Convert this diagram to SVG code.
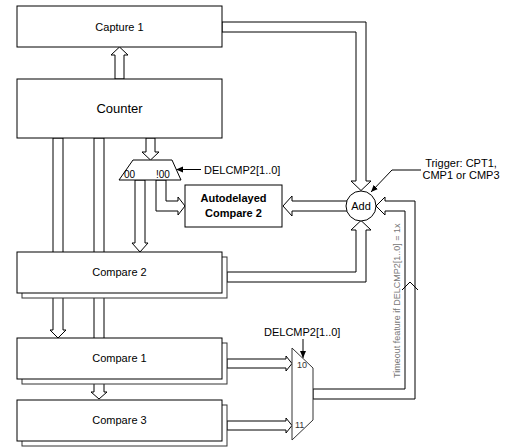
<svg xmlns="http://www.w3.org/2000/svg" width="515" height="448" viewBox="0 0 515 448">
<style>
.box{fill:#fff;stroke:#000;stroke-width:1}
.shadow{fill:#fff;stroke:#333;stroke-width:1}
.ha{fill:#fff;stroke:#000;stroke-width:1;stroke-linejoin:miter}
.ln{fill:none;stroke:#000;stroke-width:1}
text{font-family:"Liberation Sans",Arial,sans-serif;fill:#000}
.t11{font-size:11px}
.t13{font-size:13px}
.b11{font-size:11px;font-weight:bold}
.t10{font-size:10px}
.t9{font-size:9px;fill:#333}
.vt{font-size:9px;fill:#777}
</style>
<defs>
<marker id="ah" markerWidth="8" markerHeight="8" refX="7" refY="4" orient="auto" markerUnits="userSpaceOnUse">
<path d="M0,1 L7,4 L0,7 Z" fill="#000"/>
</marker>
</defs>
<g id="connectors">
<polygon class="ha" points="115,79 115,55 111,55 119.5,47 128,55 124,55 124,79"/>
<polygon class="ha" points="222,22 366,22 366,181 371,181 361,190.5 351,181 356,181 356,32 222,32"/>
<polygon class="ha" points="227,272 356,272 356,230 351,230 361,220.5 371,230 366,230 366,282 227,282"/>
<polygon class="ha" points="352,201 292,201 292,196 283,206 292,216 292,211 352,211"/>
<polygon class="ha" points="313,389 405,389 405,211 385,211 385,215 376,206 385,197 385,201 415,201 415,399 313,399"/>
<polyline class="ln" points="402,290 410,282 418,290"/>
<polygon class="ha" points="146,138 146,152 142,152 150.5,160 159,152 155,152 155,138"/>
<polygon class="ha" points="135,180 135,243 132,243 140,252 148,243 145,243 145,180"/>
<polygon class="ha" points="166,180 166,201 178,201 178,197 185,206 178,215 178,211 156,211 156,180"/>
<polygon class="ha" points="53,138 53,330 50,330 58,338 66,330 63,330 63,138"/>
<polygon class="ha" points="94,138 94,392 91,392 99,399 107,392 104,392 104,138"/>
<polygon class="ha" points="227,359 286,359 286,356 292,363.5 286,371 286,368 227,368"/>
<polygon class="ha" points="227,421 286,421 286,418 292,425.5 286,433 286,430 227,430"/>
<line class="ln" x1="201" y1="169.5" x2="176" y2="169.5" marker-end="url(#ah)"/>
<line class="ln" x1="303" y1="339" x2="303" y2="358" marker-end="url(#ah)"/>
<polyline class="ln" points="421,170 392,170 371,192" marker-end="url(#ah)"/>
</g>
<g id="capture1">
<rect class="box" x="17" y="6" width="205" height="41"/>
<text class="t11" x="119.5" y="31" text-anchor="middle">Capture 1</text>
</g>
<g id="counter">
<rect class="box" x="17" y="79" width="205" height="59"/>
<text class="t13" x="119.5" y="113" text-anchor="middle">Counter</text>
</g>
<g id="compare2">
<rect class="shadow" x="22" y="257" width="205" height="41"/>
<rect class="box" x="17" y="252" width="205" height="41"/>
<text class="t11" x="119.5" y="276" text-anchor="middle">Compare 2</text>
</g>
<g id="compare1">
<rect class="shadow" x="22" y="343" width="205" height="41"/>
<rect class="box" x="17" y="338" width="205" height="41"/>
<text class="t11" x="119.5" y="362" text-anchor="middle">Compare 1</text>
</g>
<g id="compare3">
<rect class="shadow" x="22" y="405" width="205" height="41"/>
<rect class="box" x="17" y="400" width="205" height="41"/>
<text class="t11" x="119.5" y="424" text-anchor="middle">Compare 3</text>
</g>
<g id="autodelayed">
<rect class="box" x="185" y="185" width="97" height="42"/>
<text class="b11" x="233.5" y="202" text-anchor="middle">Autodelayed</text>
<text class="b11" x="233.5" y="217" text-anchor="middle">Compare 2</text>
</g>
<g id="add">
<circle class="box" cx="361" cy="206" r="15"/>
<text class="t11" x="361" y="210" text-anchor="middle">Add</text>
</g>
<g id="mux1">
<polygon class="box" points="133,160 172,160 181,180 119,180"/>
<text class="t10" x="124" y="178">00</text>
<text class="t10" x="156" y="178">!00</text>
</g>
<g id="mux2">
<polygon class="box" points="292,348 313,368 313,420 292,440" style="stroke:#333"/>
<text class="t9" x="297" y="368">10</text>
<text class="t9" x="295" y="428">11</text>
</g>
<g id="labels">
<text class="t11" x="204" y="174">DELCMP2[1..0]</text>
<text class="t11" x="264" y="336">DELCMP2[1..0]</text>
<text class="t11" x="461" y="167" text-anchor="middle">Trigger: CPT1,</text>
<text class="t11" x="461" y="179" text-anchor="middle">CMP1 or CMP3</text>
<text class="vt" transform="translate(400,378) rotate(-90)">Timeout feature if DELCMP2[1..0] = 1x</text>
</g>
</svg>
